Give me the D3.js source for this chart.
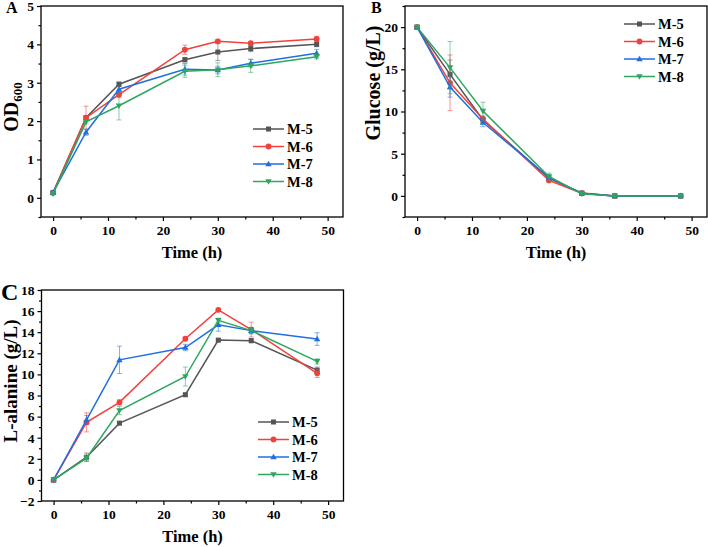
<!DOCTYPE html>
<html><head><meta charset="utf-8">
<script src="https://cdn.jsdelivr.net/npm/d3@7"></script>
<style>body{margin:0;background:#fff}svg{display:block}svg text{font-family:"Liberation Serif","Times New Roman",serif !important;font-weight:bold}</style>
</head><body><svg id="c" width="708" height="547"></svg>
<script>
const time = [0, 6, 12, 24, 30, 36, 48];
const seriesNames = ["M-5", "M-6", "M-7", "M-8"];
const colors = ["#555555", "#f2403c", "#1f6fe3", "#2ea65f"];
const markers = ["square", "circle", "triangle", "triangleDown"];

// Panel A: OD600
const odM5 = [0.14, 2.09, 2.96, 3.60, 3.80, 3.89, 4.00];
const odM6 = [0.13, 2.09, 2.69, 3.86, 4.08, 4.03, 4.14];
const odM7 = [0.14, 1.71, 2.83, 3.35, 3.33, 3.51, 3.77];
const odM8 = [0.11, 1.98, 2.40, 3.30, 3.34, 3.44, 3.68];
const odErrM5 = [0.03, 0.05, 0.06, 0.06, 0.22, 0.08, 0.06];
const odErrM6 = [0.03, 0.30, 0.08, 0.12, 0.05, 0.04, 0.07];
const odErrM7 = [0.03, 0.08, 0.10, 0.15, 0.10, 0.10, 0.10];
const odErrM8 = [0.03, 0.05, 0.37, 0.16, 0.18, 0.17, 0.06];

// Panel B: Glucose
const gluM5 = [20.0, 14.4, 9.0, 2.1, 0.35, 0.0, 0.0];
const gluM6 = [20.0, 13.4, 9.1, 1.85, 0.3, 0.0, 0.0];
const gluM7 = [20.0, 12.9, 8.7, 2.2, 0.3, 0.0, 0.0];
const gluM8 = [20.0, 15.2, 10.05, 2.3, 0.25, 0.0, 0.0];
const gluErrM5 = [0.1, 1.7, 0.4, 0.3, 0.1, 0.05, 0.05];
const gluErrM6 = [0.1, 3.3, 0.4, 0.3, 0.1, 0.05, 0.05];
const gluErrM7 = [0.1, 1.2, 0.5, 0.3, 0.1, 0.05, 0.05];
const gluErrM8 = [0.1, 3.1, 1.05, 0.4, 0.1, 0.05, 0.05];

// Panel C: L-alanine
const alaM5 = [0.0, 2.15, 5.38, 8.07, 13.25, 13.2, 10.4];
const alaM6 = [0.0, 5.45, 7.35, 13.38, 16.12, 14.25, 10.1];
const alaM7 = [0.0, 5.7, 11.38, 12.55, 14.7, 14.15, 13.35];
const alaM8 = [0.0, 2.06, 6.58, 9.8, 15.13, 14.15, 11.23];
const alaErrM5 = [0.05, 0.4, 0.15, 0.15, 0.15, 0.2, 0.3];
const alaErrM6 = [0.05, 0.9, 0.25, 0.15, 0.1, 0.7, 0.4];
const alaErrM7 = [0.05, 0.4, 1.3, 0.3, 0.6, 0.3, 0.6];
const alaErrM8 = [0.05, 0.25, 0.4, 0.9, 0.2, 0.3, 0.25];

const xTicks = [0, 10, 20, 30, 40, 50];
const odTicks = [0, 1, 2, 3, 4, 5];
const gluTicks = [0, 5, 10, 15, 20];
const alaTicks = [-2, 0, 2, 4, 6, 8, 10, 12, 14, 16, 18];

const svg = d3.select("#c");
const SERIF = "Liberation Serif";

function marker(g, type, x, y, color) {
  const s = 5;
  if (type === "square") g.append("rect").attr("x", x - s/2).attr("y", y - s/2).attr("width", s).attr("height", s).attr("fill", color);
  else if (type === "circle") g.append("circle").attr("cx", x).attr("cy", y).attr("r", 2.9).attr("fill", color);
  else if (type === "triangle") g.append("path").attr("d", `M${x},${y-3.3}L${x+3.2},${y+2.3}L${x-3.2},${y+2.3}Z`).attr("fill", color);
  else g.append("path").attr("d", `M${x},${y+3.3}L${x+3.2},${y-2.3}L${x-3.2},${y-2.3}Z`).attr("fill", color);
}

function panel(cfg) {
  const g = svg.append("g").attr("font-family", SERIF).attr("font-weight", "bold");
  const x = d3.scaleLinear().domain([-2.2, 52.8]).range([cfg.left, cfg.left + 302]);
  const y = d3.scaleLinear().domain(cfg.yDomain).range([cfg.top + 211, cfg.top]);

  const xa = g.append("g").attr("transform", `translate(0,${cfg.top + 211})`)
    .call(d3.axisBottom(x).tickValues(xTicks).tickSize(4).tickPadding(4).tickFormat(d3.format("d")));
  const xm = g.append("g").attr("transform", `translate(0,${cfg.top + 211})`)
    .call(d3.axisBottom(x).tickValues([5, 15, 25, 35, 45]).tickSize(2.5).tickFormat(""));
  const ya = g.append("g").attr("transform", `translate(${cfg.left},0)`)
    .call(d3.axisLeft(y).tickValues(cfg.yTicks).tickSize(4).tickPadding(3).tickFormat(d3.format("d")));
  const ym = g.append("g").attr("transform", `translate(${cfg.left},0)`)
    .call(d3.axisLeft(y).tickValues(cfg.yMinor).tickSize(2.5).tickFormat(""));
  [xa, xm, ya, ym].forEach(a => {
    a.attr("font-family", SERIF).attr("font-size", 13).attr("font-weight", "bold");
    a.select(".domain").remove();
    a.selectAll("line").attr("stroke", "#000").attr("stroke-width", 1.2);
    a.selectAll("text").attr("fill", "#000").attr("font-family", SERIF).style("font-size", "13.5px").style("font-weight", "bold");
  });
  g.append("rect").attr("x", cfg.left).attr("y", cfg.top).attr("width", 302).attr("height", 211)
    .attr("fill", "none").attr("stroke", "#000").attr("stroke-width", 1.3);

  cfg.series.forEach((vals, i) => {
    const err = cfg.errs[i];
    const col = colors[i];
    const eg = g.append("g").attr("stroke", col).attr("stroke-opacity", 0.55).attr("stroke-width", 1);
    vals.forEach((v, j) => {
      const cx = x(time[j]);
      const y1 = y(v - err[j]), y2 = y(v + err[j]);
      eg.append("line").attr("x1", cx).attr("x2", cx).attr("y1", y1).attr("y2", y2);
      eg.append("line").attr("x1", cx - 2.5).attr("x2", cx + 2.5).attr("y1", y1).attr("y2", y1);
      eg.append("line").attr("x1", cx - 2.5).attr("x2", cx + 2.5).attr("y1", y2).attr("y2", y2);
    });
    g.append("path").datum(vals)
      .attr("d", d3.line().x((d, j) => x(time[j])).y(d => y(d)))
      .attr("fill", "none").attr("stroke", col).attr("stroke-width", 1.5);
    vals.forEach((v, j) => marker(g, markers[i], x(time[j]), y(v), col));
  });

  seriesNames.forEach((n, i) => {
    const ly = cfg.legY + i * 17.5;
    g.append("line").attr("x1", cfg.legX).attr("x2", cfg.legX + 31).attr("y1", ly).attr("y2", ly)
      .attr("stroke", colors[i]).attr("stroke-width", 1.5);
    marker(g, markers[i], cfg.legX + 15.5, ly, colors[i]);
    g.append("text").attr("x", cfg.legX + 34).attr("y", ly + 5).style("font-size", "14.5px").attr("fill", "#000").text(n);
  });

  g.append("text").attr("x", cfg.left + 151).attr("y", cfg.top + 252).attr("text-anchor", "middle")
    .style("font-size", "16.5px").text("Time (h)");
  const yt = g.append("text").attr("transform", `translate(${cfg.yLabX},${cfg.yLabY}) rotate(-90)`)
    .attr("text-anchor", "middle").style("font-size", cfg.yLabSize + "px");
  if (cfg.yLabel === "OD") {
    yt.append("tspan").text("OD");
    yt.append("tspan").attr("dy", 4).style("font-size", "13px").text("600");
  } else yt.text(cfg.yLabel);

  g.append("text").attr("x", cfg.letX).attr("y", cfg.letY).style("font-size", cfg.letSize + "px").text(cfg.letter);
}

panel({left: 41, top: 6, yDomain: [-0.5, 5], yTicks: odTicks, yMinor: [-0.5, 0.5, 1.5, 2.5, 3.5, 4.5],
  series: [odM5, odM6, odM7, odM8], errs: [odErrM5, odErrM6, odErrM7, odErrM8],
  legX: 253, legY: 129, yLabX: 18, yLabY: 107, yLabSize: 20, yLabel: "OD", letter: "A", letX: 6, letY: 13, letSize: 16});
panel({left: 405, top: 6, yDomain: [-2.5, 22.5], yTicks: gluTicks, yMinor: [-2.5, 2.5, 7.5, 12.5, 17.5, 22.5],
  series: [gluM5, gluM6, gluM7, gluM8], errs: [gluErrM5, gluErrM6, gluErrM7, gluErrM8],
  legX: 624, legY: 24, yLabX: 380, yLabY: 83, yLabSize: 20, yLabel: "Glucose (g/L)", letter: "B", letX: 371, letY: 13, letSize: 16});
panel({left: 41.5, top: 290, yDomain: [-2, 18], yTicks: alaTicks, yMinor: [-1, 1, 3, 5, 7, 9, 11, 13, 15, 17],
  series: [alaM5, alaM6, alaM7, alaM8], errs: [alaErrM5, alaErrM6, alaErrM7, alaErrM8],
  legX: 258, legY: 422, yLabX: 17, yLabY: 381, yLabSize: 19, yLabel: "L-alanine (g/L)", letter: "C", letX: 1, letY: 300, letSize: 24});
</script></body></html>
